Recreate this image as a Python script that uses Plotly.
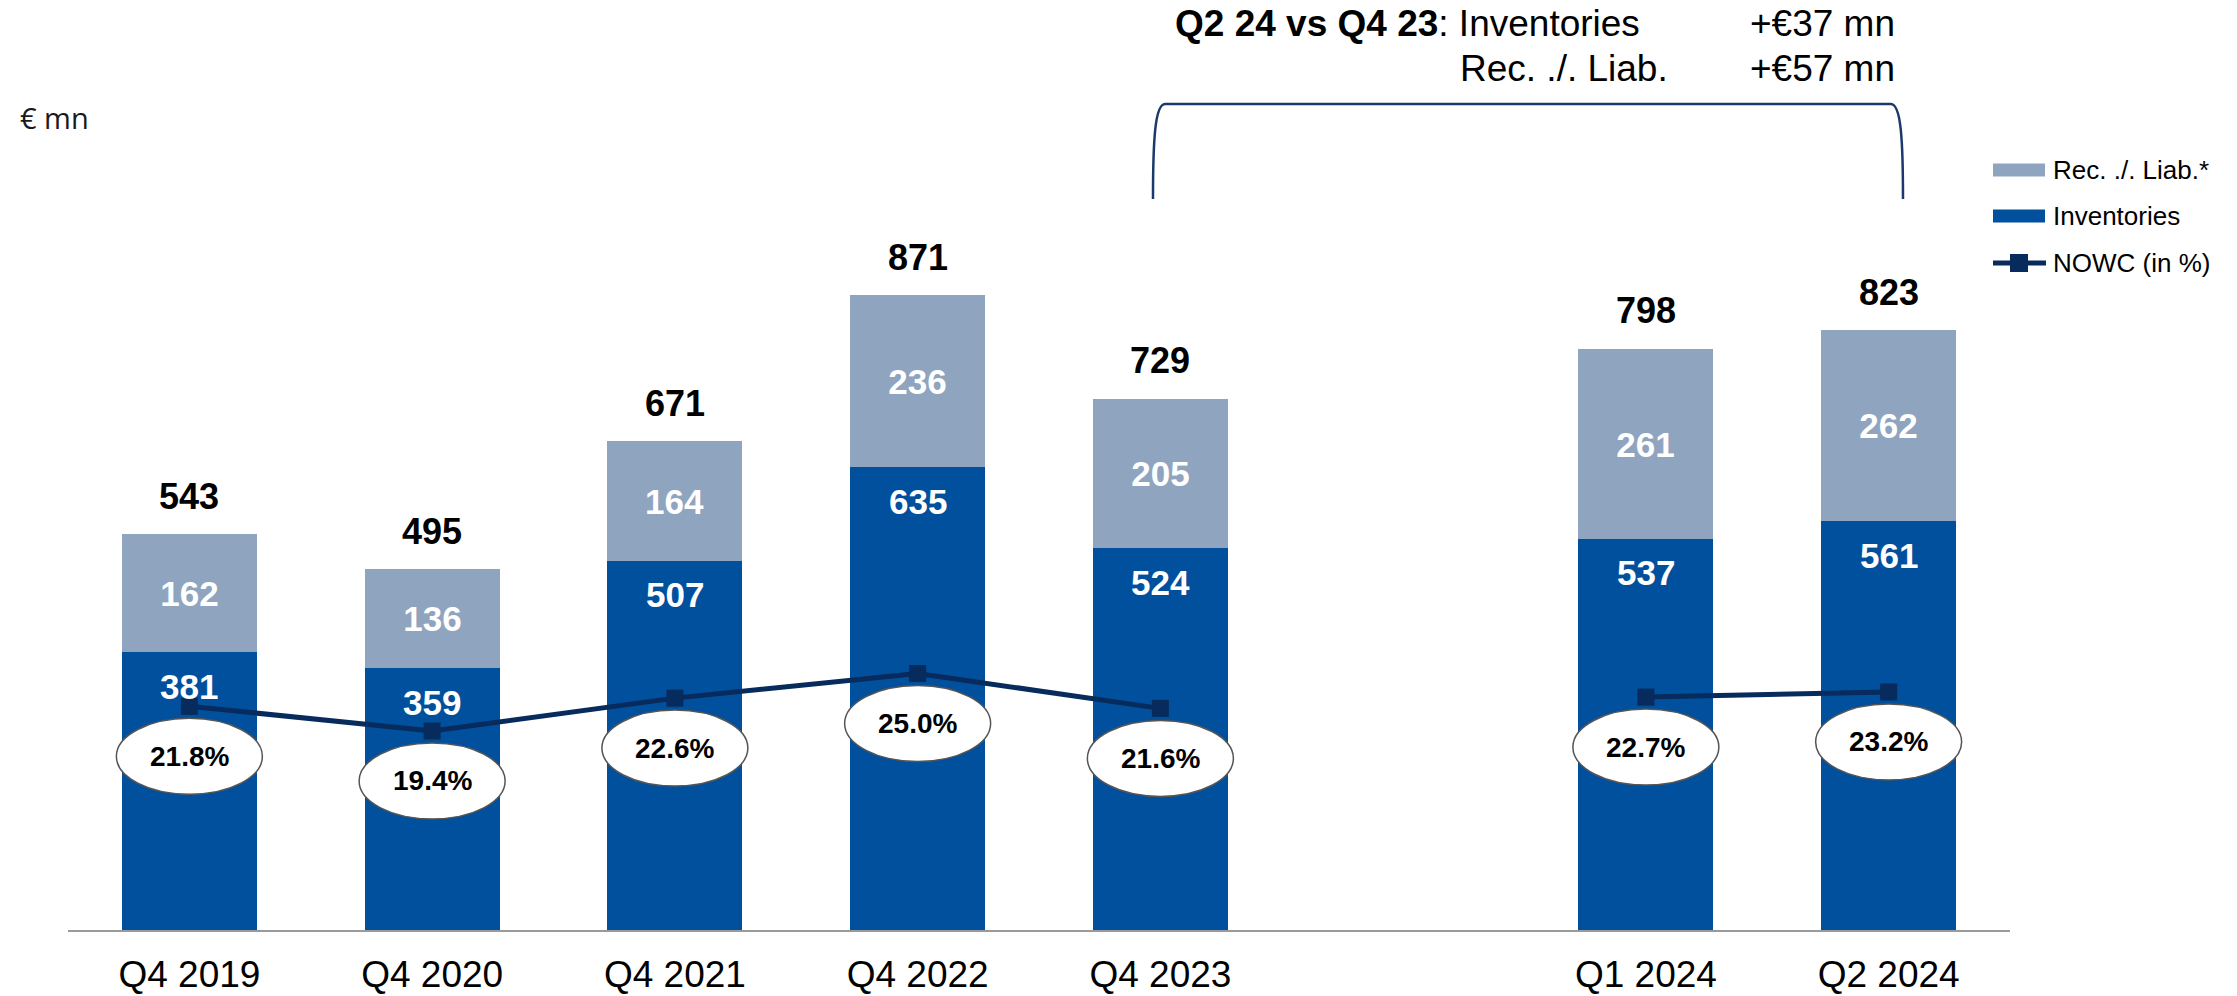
import plotly.graph_objects as go

# ---------------- data ----------------
categories = ["Q4 2019", "Q4 2020", "Q4 2021", "Q4 2022", "Q4 2023", "Q1 2024", "Q2 2024"]
inventories = [381, 359, 507, 635, 524, 537, 561]
rec_liab = [162, 136, 164, 236, 205, 261, 262]
totals = [543, 495, 671, 871, 729, 798, 823]
nowc_pct = [21.8, 19.4, 22.6, 25.0, 21.6, 22.7, 23.2]
nowc_labels = ["21.8%", "19.4%", "22.6%", "25.0%", "21.6%", "22.7%", "23.2%"]

# ---------------- layout constants ----------------
W, H = 2237, 996
L, R, T, B = 68, 227, 0, 66
PW, PH = W - L - R, H - T - B

FONT = "Arial, Liberation Sans, sans-serif"
C_REC = "#8FA5BF"
C_INV = "#00509E"
C_LINE = "#072B5C"
C_BRACKET = "#1B3A6B"

# layout positions: gap slot between Q4 2023 and Q1 2024
xpos = [i + (1 if i >= 5 else 0) for i in range(len(categories))]


def px_x(px):
    return (px - L) / PW


def px_y(py):
    return (T + PH - py) / PH


fig = go.Figure()

fig.add_trace(go.Bar(
    x=xpos, y=inventories, name="Inventories",
    marker=dict(color=C_INV, line=dict(width=0)), width=0.556,
    showlegend=False, hoverinfo="skip",
))
fig.add_trace(go.Bar(
    x=xpos, y=rec_liab, name="Rec. ./. Liab.*",
    marker=dict(color=C_REC, line=dict(width=0)), width=0.556,
    text=[str(v) for v in rec_liab], textposition="inside",
    insidetextanchor="middle", textangle=0, constraintext="none",
    textfont=dict(family=FONT, size=35, color="white", weight="bold"),
    showlegend=False, hoverinfo="skip",
))

# NOWC line, broken at the empty slot
line_x, line_y = [], []
for i, (p, v) in enumerate(zip(xpos, nowc_pct)):
    if i > 0 and p - xpos[i - 1] > 1:
        line_x.append(None)
        line_y.append(None)
    line_x.append(p)
    line_y.append(v)
fig.add_trace(go.Scatter(
    x=line_x, y=line_y, yaxis="y2", mode="lines+markers", name="NOWC (in %)",
    line=dict(color=C_LINE, width=5),
    marker=dict(symbol="square", size=17, color=C_LINE),
    connectgaps=False, showlegend=False, hoverinfo="skip",
))

annotations = []
shapes = []

for p, inv, tot, pct, lab in zip(xpos, inventories, totals, nowc_pct, nowc_labels):
    annotations.append(dict(x=p, y=inv, xref="x", yref="y", yshift=-34, showarrow=False,
                            text=str(inv), font=dict(family=FONT, size=35, color="white", weight="bold")))
    annotations.append(dict(x=p, y=tot, xref="x", yref="y", yshift=38, showarrow=False,
                            text=str(tot), font=dict(family=FONT, size=36, color="black", weight="bold")))
    shapes.append(dict(type="circle", xref="x", yref="y2",
                       xsizemode="pixel", xanchor=p, x0=-73, x1=73,
                       ysizemode="pixel", yanchor=pct, y0=-88, y1=-12,
                       fillcolor="white", line=dict(color="#555555", width=1.5), layer="above"))
    annotations.append(dict(x=p, y=pct, xref="x", yref="y2", yshift=-50, showarrow=False,
                            text=lab, font=dict(family=FONT, size=28, color="black", weight="bold")))

# unit label
annotations.append(dict(x=px_x(18), y=px_y(118), xref="paper", yref="paper", xanchor="left",
                        yanchor="middle", showarrow=False, text="€ mn",
                        font=dict(family="Open Sans, sans-serif", size=29, color="#1a1a1a")))

# header comparison text
hfont = dict(family=FONT, size=37, color="black")
annotations += [
    dict(x=px_x(1173), y=px_y(24), xref="paper", yref="paper", xanchor="left", yanchor="middle",
         showarrow=False, text="<b>Q2 24 vs Q4 23</b>: Inventories", font=hfont),
    dict(x=px_x(1458), y=px_y(68), xref="paper", yref="paper", xanchor="left", yanchor="middle",
         showarrow=False, text="Rec. ./. Liab.", font=hfont),
    dict(x=px_x(1748), y=px_y(24), xref="paper", yref="paper", xanchor="left", yanchor="middle",
         showarrow=False, text="+€37 mn", font=hfont),
    dict(x=px_x(1748), y=px_y(68), xref="paper", yref="paper", xanchor="left", yanchor="middle",
         showarrow=False, text="+€57 mn", font=hfont),
]

# bracket
xl, xr, yt, yb = 1153, 1903, 104, 199
pts = [
    ("M", [(xl, yb)]),
    ("C", [(xl, 140), (xl + 2, yt), (xl + 12, yt)]),
    ("L", [(xr - 12, yt)]),
    ("C", [(xr - 2, yt), (xr, 140), (xr, yb)]),
]
path = " ".join(cmd + " " + " ".join(f"{px_x(a):.5f},{px_y(b):.5f}" for a, b in pp) for cmd, pp in pts)
shapes.append(dict(type="path", xref="paper", yref="paper", path=path,
                   line=dict(color=C_BRACKET, width=2.5)))

# custom legend
leg_items = [("Rec. ./. Liab.*", C_REC, 170), ("Inventories", C_INV, 216)]
for name, col, yc in leg_items:
    shapes.append(dict(type="rect", xref="paper", yref="paper",
                       x0=px_x(1993), x1=px_x(2045), y0=px_y(yc + 6.5), y1=px_y(yc - 6.5),
                       fillcolor=col, line=dict(width=0)))
    annotations.append(dict(x=px_x(2051), y=px_y(yc), xref="paper", yref="paper", xanchor="left",
                            yanchor="middle", showarrow=False, text=name,
                            font=dict(family=FONT, size=26, color="black")))
yc = 263
shapes.append(dict(type="line", xref="paper", yref="paper", x0=px_x(1993), x1=px_x(2046),
                   y0=px_y(yc), y1=px_y(yc), line=dict(color=C_LINE, width=5)))
shapes.append(dict(type="rect", xref="paper", yref="paper", x0=px_x(2010), x1=px_x(2028),
                   y0=px_y(yc + 9), y1=px_y(yc - 9), fillcolor=C_LINE, line=dict(width=0)))
annotations.append(dict(x=px_x(2051), y=px_y(yc), xref="paper", yref="paper", xanchor="left",
                        yanchor="middle", showarrow=False, text="NOWC (in %)",
                        font=dict(family=FONT, size=26, color="black")))

fig.update_layout(
    width=W, height=H,
    margin=dict(l=L, r=R, t=T, b=B, pad=0),
    paper_bgcolor="white", plot_bgcolor="white",
    barmode="stack", bargap=0,
    showlegend=False,
    xaxis=dict(range=[-0.5, 7.5], tickmode="array", tickvals=xpos, ticktext=categories,
               tickfont=dict(family=FONT, size=37, color="black"), ticks="", ticklabelstandoff=11,
               showline=True, linecolor="#9A9A9A", linewidth=2, showgrid=False, zeroline=False,
               fixedrange=True),
    yaxis=dict(range=[0, PH / 0.7285], visible=False, showgrid=False, zeroline=False, fixedrange=True),
    yaxis2=dict(range=[0, PH / 10.26], overlaying="y", visible=False, showgrid=False,
                zeroline=False, fixedrange=True),
    annotations=annotations,
    shapes=shapes,
)

fig.write_html("out.html", config={"displayModeBar": False},
               post_script="document.body.style.margin='0px';document.body.style.overflow='hidden';")
